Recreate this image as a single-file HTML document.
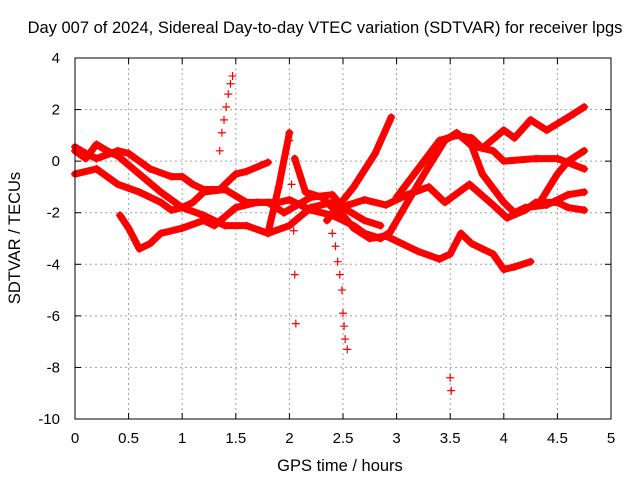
<!DOCTYPE html>
<html><head><meta charset="utf-8"><style>
body{margin:0;background:#fff;}
svg text{font-family:"Liberation Sans",sans-serif;font-size:15px;fill:#000;}
svg text.big{font-size:16.5px;}
</style></head><body>
<svg id="chart" width="640" height="480">
<text class="big" x="325" y="33" text-anchor="middle">Day 007 of 2024, Sidereal Day-to-day VTEC variation (SDTVAR) for receiver lpgs</text>
<text class="big" x="340" y="471" text-anchor="middle">GPS time / hours</text>
<text class="big" transform="translate(20,238) rotate(-90)" text-anchor="middle">SDTVAR / TECUs</text>
<g id="grid"></g><g id="series"></g><g id="ticks"></g>
</svg>
<script>
const xTicks=[0,0.5,1,1.5,2,2.5,3,3.5,4,4.5,5];
const yTicks=[-10,-8,-6,-4,-2,0,2,4];
const track1=[[0,0.55],[0.1,0.3],[0.2,0.1],[0.4,0.4],[0.5,0.3],[0.7,-0.3],[0.9,-0.6],[1.0,-0.6],[1.1,-0.9],[1.2,-1.1],[1.35,-1.1],[1.5,-0.5],[1.6,-0.4],[1.8,-0.05]];
const track2=[[0,0.4],[0.1,0.1],[0.2,0.65],[0.3,0.4],[0.4,0.2],[0.6,-0.5],[0.8,-1.2],[1.0,-1.8],[1.2,-2.1],[1.4,-2.5],[1.6,-2.5],[1.8,-2.8],[2.0,-2.5],[2.2,-1.8],[2.4,-1.6],[2.6,-2.6],[2.75,-3.0],[2.9,-2.9],[3.0,-3.1],[3.2,-3.5],[3.4,-3.8],[3.5,-3.6],[3.6,-2.8],[3.7,-3.2],[3.8,-3.4],[3.9,-3.6],[4.0,-4.2],[4.1,-4.1],[4.25,-3.9]];
const track3=[[0,-0.5],[0.2,-0.3],[0.4,-0.9],[0.6,-1.2],[0.8,-1.6],[0.9,-1.9],[1.0,-1.8],[1.1,-1.6],[1.2,-1.2],[1.4,-1.1],[1.6,-1.6],[1.8,-1.6],[1.95,-2.0],[2.2,-1.4],[2.4,-1.3],[2.5,-1.8],[2.7,-2.3],[2.85,-2.5]];
const track4=[[0.42,-2.1],[0.5,-2.6],[0.6,-3.4],[0.7,-3.2],[0.8,-2.8],[1.0,-2.6],[1.2,-2.3],[1.3,-2.5],[1.5,-1.8],[1.7,-1.6],[1.9,-1.6],[2.0,-1.5],[2.2,-1.9],[2.4,-2.1],[2.6,-2.5],[2.7,-2.8],[2.85,-3.0],[2.94,-2.75],[3.1,-1.6],[3.3,-0.2],[3.45,0.8],[3.56,1.1],[3.7,0.6],[3.8,-0.5],[4.0,-1.6],[4.1,-2.0],[4.2,-1.8],[4.4,-1.7],[4.6,-1.3],[4.75,-1.2]];
const track5=[[1.8,-2.8],[1.9,-1.0],[2.0,1.1]];
const track6=[[2.05,0.1],[2.15,-1.2],[2.3,-1.4],[2.45,-2.0],[2.55,-1.7],[2.7,-1.5],[2.9,-1.7],[3.1,-1.3],[3.3,-1.0],[3.45,-1.6],[3.68,-0.9],[3.9,-1.7],[4.03,-2.2],[4.2,-1.9],[4.3,-1.6],[4.5,-1.6],[4.6,-1.8],[4.75,-1.9]];
const track7=[[2.35,-2.3],[2.6,-1.0],[2.8,0.3],[2.95,1.7]];
const track8=[[3.0,-1.4],[3.2,-0.3],[3.4,0.8],[3.56,1.0],[3.7,0.9],[3.8,0.5],[4.0,1.2],[4.1,0.9],[4.25,1.6],[4.4,1.2],[4.6,1.7],[4.75,2.1]];
const track9=[[3.7,0.6],[3.9,0.4],[4.0,0.0],[4.3,0.1],[4.5,0.1],[4.75,-0.3]];
const track10=[[4.35,-1.5],[4.5,-0.5],[4.6,0.0],[4.75,0.4]];
const spikes=[[1.35,0.4],[1.37,1.1],[1.39,1.6],[1.41,2.1],[1.43,2.6],[1.45,3.0],[1.47,3.3],[2.0,0.8],[2.02,-0.9],[2.04,-2.7],[2.05,-4.4],[2.06,-6.3],[2.4,-2.8],[2.43,-3.3],[2.45,-3.9],[2.47,-4.4],[2.49,-5.0],[2.5,-5.9],[2.51,-6.4],[2.52,-6.9],[2.54,-7.3],[3.5,-8.4],[3.51,-8.9]];
const NS='http://www.w3.org/2000/svg';
const X0=75,X1=611,Y0=58,Y1=419;
function xs(t){return X0+(t-0)/5*(X1-X0);}
function ys(v){return Y0+(4-v)/14*(Y1-Y0);}
function mk(tag,attrs,parent){const e=document.createElementNS(NS,tag);for(const k in attrs)e.setAttribute(k,attrs[k]);parent.appendChild(e);return e;}
const grid=document.getElementById('grid'),ticks=document.getElementById('ticks'),ser=document.getElementById('series');
xTicks.forEach(t=>{
 if(t>0&&t<5){const g=mk('line',{x1:xs(t),x2:xs(t),y1:Y0,y2:Y1,stroke:'#a0a0a0','stroke-dasharray':'2,3'},grid);
 
 }
 const l=mk('text',{x:xs(t),y:Y1+24,'text-anchor':'middle'},ticks);l.textContent=t;
 
 
 mk('line',{x1:xs(t),x2:xs(t),y1:Y1,y2:Y1-6,stroke:'#000'},ticks);
 mk('line',{x1:xs(t),x2:xs(t),y1:Y0,y2:Y0+6,stroke:'#000'},ticks);
});
yTicks.forEach(v=>{
 if(v>-10&&v<4){const g=mk('line',{x1:X0,x2:X1,y1:ys(v),y2:ys(v),stroke:'#a0a0a0','stroke-dasharray':'2,3'},grid);
 
 }
 const l=mk('text',{x:X0-15,y:ys(v)+5,'text-anchor':'end'},ticks);l.textContent=v;
 
 
 mk('line',{x1:X0,x2:X0+6,y1:ys(v),y2:ys(v),stroke:'#000'},ticks);
 mk('line',{x1:X1,x2:X1-6,y1:ys(v),y2:ys(v),stroke:'#000'},ticks);
});
const box=mk('rect',{x:X0,y:Y0,width:X1-X0,height:Y1-Y0,fill:'none',stroke:'#000'},ticks);


function plus(t,v,g){const x=xs(t),y=ys(v);mk('path',{d:`M${x-4},${y}h8M${x},${y-4}v8`,stroke:'red','stroke-width':1.2},g);}
[track1,track2,track3,track4,track5,track6,track7,track8,track9,track10].forEach((tr,i)=>{
 const g=mk('g',{},ser);
 
 
 const p=mk('polyline',{points:tr.map(d=>xs(d[0])+','+ys(d[1])).join(' '),fill:'none',stroke:'red','stroke-width':7,'stroke-linejoin':'round','stroke-linecap':'round'},g);
 
 
 tr.forEach(d=>plus(d[0],d[1],g));
});
const sg=mk('g',{},ser);


spikes.forEach(d=>plus(d[0],d[1],sg));
</script>
</body></html>
